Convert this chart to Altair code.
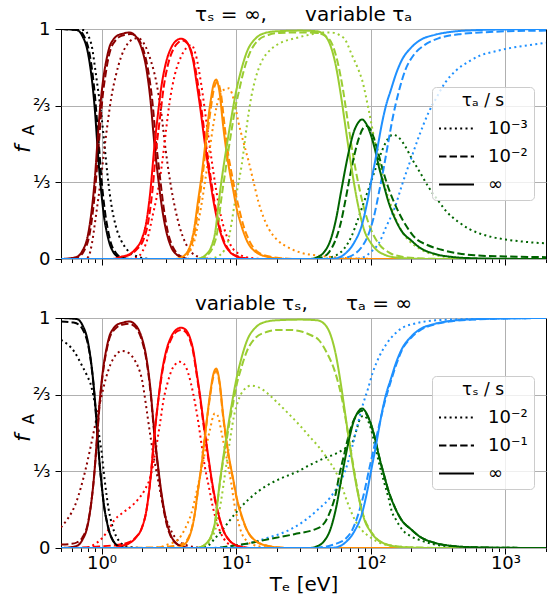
import altair as alt
import pandas as pd

SPECIES = ["A0", "A1", "A2", "A3", "A4", "A5", "A6"]
COLORS = ["#000000", "#8b0000", "#ff0000", "#ff8c00", "#9acd32", "#006400", "#1e90ff"]

X_TICKS = [0.5, 0.6, 0.7, 0.8, 0.9, 1, 2, 3, 4, 5, 6, 7, 8, 9, 10, 20, 30, 40, 50, 60, 70, 80, 90,
           100, 200, 300, 400, 500, 600, 700, 800, 900, 1000, 2000]
Y_TICKS = [0, 1 / 3, 2 / 3, 1]
TOP_STYLES = ["10⁻³", "10⁻²", "∞"]
BOTTOM_STYLES = ["10⁻²", "10⁻¹", "∞"]
DASHES = [[2, 3.3], [7.4, 3.2], [1, 0]]

# ---- tau = infinity (solid, same in both panels) ----
INF_0 = [(0.5,1.0),(0.66,0.995),(0.72,0.97),(0.79,0.9),(0.84,0.80),(0.87,0.72),(0.90,0.62),(0.93,0.50),(0.97,0.36),(1.0,0.28),(1.04,0.19),(1.1,0.11),(1.15,0.065),(1.21,0.035),(1.3,0.012),(1.4,0.004),(1.6,0.0),(2000,0.0)]
INF_1 = [(0.5,0.0),(0.6,0.004),(0.66,0.01),(0.72,0.035),(0.79,0.10),(0.84,0.20),(0.87,0.28),(0.90,0.38),(0.93,0.50),(0.97,0.64),(1.0,0.72),(1.04,0.80),(1.1,0.88),(1.15,0.925),(1.21,0.95),(1.3,0.97),(1.45,0.98),(1.6,0.985),(1.75,0.975),(1.9,0.945),(2.0,0.91),(2.15,0.83),(2.3,0.70),(2.47,0.50),(2.6,0.38),(2.8,0.23),(3.0,0.13),(3.3,0.05),(3.6,0.02),(4.0,0.006),(4.5,0.0),(2000,0.0)]
INF_2 = [(0.5,0.0),(1.2,0.0),(1.4,0.01),(1.6,0.02),(1.8,0.045),(2.0,0.09),(2.15,0.16),(2.3,0.29),(2.47,0.49),(2.6,0.61),(2.8,0.76),(3.0,0.85),(3.3,0.92),(3.6,0.95),(3.9,0.958),(4.2,0.95),(4.5,0.92),(4.8,0.86),(5.1,0.76),(5.4,0.66),(5.8,0.52),(6.2,0.40),(6.7,0.27),(7.3,0.16),(8.0,0.08),(9.0,0.03),(10,0.012),(11,0.005),(12.5,0.0),(2000,0.0)]
INF_3 = [(0.5,0.0),(3.5,0.0),(4.0,0.01),(4.5,0.05),(4.9,0.14),(5.2,0.25),(5.5,0.35),(5.9,0.50),(6.4,0.67),(6.8,0.76),(7.1,0.78),(7.5,0.73),(8.0,0.58),(8.5,0.46),(9.0,0.37),(9.5,0.30),(10,0.23),(11,0.14),(12,0.08),(14,0.03),(17,0.01),(20,0.003),(25,0.0),(2000,0.0)]
INF_4 = [(0.5,0.0),(5.0,0.0),(5.5,0.005),(6.0,0.02),(6.5,0.05),(7.0,0.12),(7.5,0.27),(8.0,0.39),(8.5,0.49),(9.0,0.58),(9.5,0.66),(10,0.73),(11,0.83),(12,0.90),(14,0.96),(17,0.985),(20,0.99),(30,0.993),(40,0.99),(45,0.975),(50,0.93),(55,0.84),(60,0.71),(65,0.57),(70,0.44),(75,0.33),(80,0.24),(90,0.12),(100,0.07),(110,0.04),(125,0.02),(150,0.007),(200,0.002),(300,0.0),(2000,0.0)]
INF_5 = [(0.5,0.0),(35,0.0),(40,0.008),(45,0.03),(50,0.08),(55,0.17),(60,0.29),(65,0.40),(70,0.49),(75,0.555),(80,0.59),(86,0.607),(92,0.59),(100,0.54),(108,0.47),(115,0.40),(125,0.32),(135,0.25),(150,0.18),(170,0.12),(200,0.08),(230,0.05),(300,0.022),(400,0.009),(600,0.003),(1000,0.001),(2000,0.0)]
INF_6 = [(0.5,0.0),(50,0.0),(57,0.005),(65,0.025),(75,0.07),(86,0.15),(95,0.26),(100,0.33),(108,0.43),(115,0.52),(121,0.59),(130,0.67),(140,0.73),(155,0.81),(170,0.865),(200,0.92),(230,0.95),(300,0.975),(400,0.988),(600,0.995),(1000,0.998),(2000,1.0)]

# ---- top panel, tau_a = 1e-2 (dashed) ----
TA2_0 = [(0.5,1.0),(0.67,0.995),(0.74,0.97),(0.81,0.9),(0.86,0.80),(0.89,0.72),(0.92,0.62),(0.955,0.50),(0.995,0.36),(1.025,0.28),(1.07,0.19),(1.13,0.11),(1.18,0.065),(1.25,0.035),(1.34,0.013),(1.45,0.005),(1.7,0.0),(2000,0.0)]
TA2_1 = [(0.5,0.0),(0.62,0.004),(0.68,0.01),(0.74,0.035),(0.81,0.10),(0.86,0.20),(0.89,0.28),(0.92,0.38),(0.955,0.50),(0.995,0.64),(1.025,0.72),(1.07,0.80),(1.13,0.88),(1.18,0.92),(1.25,0.945),(1.35,0.965),(1.5,0.975),(1.65,0.978),(1.8,0.968),(1.95,0.94),(2.07,0.9),(2.22,0.82),(2.38,0.69),(2.55,0.50),(2.7,0.37),(2.9,0.22),(3.1,0.12),(3.4,0.05),(3.7,0.02),(4.1,0.006),(4.6,0.0),(2000,0.0)]
TA2_2 = [(0.5,0.0),(1.25,0.0),(1.45,0.01),(1.65,0.02),(1.85,0.045),(2.07,0.09),(2.22,0.16),(2.38,0.29),(2.55,0.48),(2.7,0.60),(2.9,0.75),(3.1,0.84),(3.4,0.91),(3.7,0.94),(4.0,0.95),(4.3,0.94),(4.6,0.91),(4.9,0.85),(5.2,0.76),(5.5,0.66),(5.9,0.52),(6.3,0.40),(6.8,0.27),(7.4,0.16),(8.1,0.08),(9.1,0.03),(10.2,0.012),(11.5,0.004),(13,0.0),(2000,0.0)]
TA2_3 = [(0.5,0.0),(3.6,0.0),(4.1,0.01),(4.6,0.05),(5.0,0.14),(5.3,0.25),(5.6,0.35),(6.0,0.50),(6.5,0.66),(6.9,0.75),(7.25,0.77),(7.7,0.72),(8.2,0.58),(8.7,0.46),(9.2,0.38),(9.7,0.31),(10.3,0.24),(11.4,0.14),(12.5,0.08),(14.5,0.03),(18,0.01),(22,0.003),(27,0.0),(2000,0.0)]
TA2_4 = [(0.5,0.0),(5.2,0.0),(5.7,0.005),(6.2,0.02),(6.7,0.05),(7.25,0.12),(7.75,0.26),(8.3,0.38),(8.8,0.48),(9.3,0.57),(9.8,0.65),(10.4,0.72),(11.4,0.82),(12.5,0.89),(14.5,0.95),(17.5,0.975),(21,0.983),(30,0.985),(40,0.983),(46,0.97),(52,0.93),(57,0.85),(62,0.74),(67,0.61),(72,0.49),(77,0.39),(82,0.31),(90,0.21),(100,0.13),(115,0.065),(135,0.03),(170,0.01),(250,0.002),(400,0.0),(2000,0.0)]
TA2_5 = [(0.5,0.0),(38,0.0),(44,0.008),(49,0.03),(54,0.075),(60,0.16),(65,0.26),(70,0.36),(76,0.46),(82,0.53),(88,0.57),(93,0.578),(100,0.56),(110,0.49),(121,0.40),(135,0.31),(156,0.22),(185,0.14),(215,0.09),(260,0.062),(336,0.04),(450,0.024),(590,0.016),(1000,0.011),(2000,0.008)]
TA2_6 = [(0.5,0.0),(55,0.0),(65,0.005),(75,0.02),(85,0.05),(95,0.1),(105,0.18),(115,0.29),(125,0.40),(135,0.51),(145,0.61),(160,0.72),(180,0.82),(210,0.89),(250,0.93),(320,0.96),(450,0.977),(700,0.986),(1000,0.99),(2000,0.993)]

# ---- top panel, tau_a = 1e-3 (dotted) ----
TA3_0 = [(0.5,1.0),(0.75,0.995),(0.8,0.97),(0.85,0.92),(0.9,0.82),(0.95,0.72),(1.0,0.62),(1.05,0.50),(1.11,0.36),(1.18,0.24),(1.28,0.14),(1.4,0.08),(1.55,0.04),(1.7,0.02),(1.9,0.008),(2.1,0.002),(2.5,0.0),(2000,0.0)]
TA3_1 = [(0.5,0.0),(0.75,0.0),(0.8,0.01),(0.85,0.07),(0.9,0.17),(0.95,0.27),(1.0,0.37),(1.05,0.48),(1.11,0.59),(1.18,0.70),(1.28,0.80),(1.4,0.88),(1.56,0.935),(1.7,0.955),(1.86,0.96),(2.05,0.94),(2.33,0.86),(2.55,0.77),(2.77,0.64),(3.0,0.47),(3.29,0.31),(3.55,0.21),(3.8,0.14),(4.2,0.07),(4.64,0.03),(5.2,0.01),(6,0.002),(7,0.0),(2000,0.0)]
TA3_2 = [(0.5,0.0),(1.6,0.0),(1.8,0.005),(2.0,0.03),(2.2,0.09),(2.4,0.19),(2.55,0.26),(2.7,0.34),(2.85,0.44),(3.0,0.55),(3.2,0.68),(3.5,0.80),(3.9,0.88),(4.3,0.92),(4.65,0.93),(5.0,0.89),(5.5,0.76),(6.0,0.60),(6.5,0.45),(7.1,0.30),(7.75,0.18),(8.5,0.10),(9.2,0.055),(10.3,0.025),(11.5,0.01),(13,0.004),(16,0.0),(2000,0.0)]
TA3_3 = [(0.5,0.0),(3.8,0.0),(4.2,0.01),(4.6,0.04),(4.9,0.08),(5.2,0.15),(5.5,0.23),(5.85,0.33),(6.3,0.46),(6.75,0.58),(7.2,0.67),(7.8,0.725),(8.4,0.74),(8.8,0.742),(9.3,0.72),(9.8,0.67),(10.35,0.60),(11.3,0.51),(12.3,0.43),(13.4,0.34),(14.6,0.25),(16,0.18),(17.5,0.13),(20,0.085),(24.4,0.05),(30,0.028),(40,0.015),(55,0.007),(80,0.002),(120,0.0),(2000,0.0)]
TA3_4 = [(0.5,0.0),(6,0.0),(6.9,0.005),(7.5,0.015),(8.2,0.04),(8.7,0.075),(9.2,0.15),(9.8,0.25),(10.4,0.33),(11.0,0.41),(12,0.58),(13,0.71),(14,0.79),(15.5,0.86),(18,0.91),(20.6,0.935),(27.5,0.96),(35,0.975),(43,0.985),(50,0.985),(58,0.975),(65,0.95),(72,0.89),(80,0.83),(86,0.78),(97,0.64),(108,0.50),(118,0.40),(128,0.31),(140,0.24),(152,0.18),(170,0.12),(192,0.08),(230,0.045),(271,0.025),(350,0.01),(500,0.003),(800,0.0),(2000,0.0)]
TA3_5 = [(0.5,0.0),(45,0.0),(52,0.01),(60,0.03),(67,0.065),(72,0.10),(80,0.17),(88,0.24),(97,0.31),(108,0.39),(121,0.47),(133,0.52),(145,0.54),(160,0.53),(180,0.49),(200,0.44),(230,0.38),(270,0.31),(320,0.25),(360,0.21),(450,0.16),(540,0.13),(650,0.11),(800,0.095),(1000,0.085),(1500,0.073),(2000,0.068)]
TA3_6 = [(0.5,0.0),(70,0.0),(85,0.005),(100,0.03),(115,0.07),(130,0.14),(150,0.22),(170,0.32),(200,0.44),(230,0.54),(270,0.64),(300,0.69),(360,0.77),(430,0.82),(540,0.86),(650,0.885),(800,0.90),(1100,0.918),(1500,0.93),(2000,0.94)]

# ---- bottom panel, tau_s = 1e-1 (dashed) ----
TS1_0 = [(0.5,0.985),(0.62,0.98),(0.68,0.97),(0.74,0.94),(0.79,0.89),(0.84,0.795),(0.87,0.715),(0.90,0.615),(0.93,0.50),(0.97,0.36),(1.0,0.28),(1.04,0.19),(1.1,0.11),(1.15,0.065),(1.21,0.035),(1.3,0.012),(1.4,0.004),(1.6,0.0),(2000,0.0)]
TS1_1 = [(0.5,0.015),(0.6,0.018),(0.66,0.025),(0.72,0.045),(0.79,0.105),(0.84,0.20),(0.87,0.28),(0.90,0.38),(0.93,0.49),(0.97,0.63),(1.0,0.71),(1.04,0.79),(1.1,0.87),(1.15,0.915),(1.21,0.94),(1.3,0.96),(1.45,0.972),(1.6,0.975),(1.75,0.965),(1.9,0.935),(2.0,0.9),(2.15,0.82),(2.3,0.69),(2.47,0.49),(2.6,0.37),(2.8,0.22),(3.0,0.12),(3.3,0.045),(3.6,0.018),(4.0,0.006),(4.5,0.0),(2000,0.0)]
TS1_2 = [(0.5,0.0),(0.8,0.003),(1.0,0.007),(1.2,0.011),(1.4,0.016),(1.6,0.025),(1.8,0.047),(2.0,0.09),(2.15,0.16),(2.3,0.29),(2.47,0.49),(2.6,0.61),(2.8,0.75),(3.0,0.84),(3.3,0.91),(3.6,0.94),(3.9,0.948),(4.2,0.94),(4.5,0.91),(4.8,0.85),(5.1,0.75),(5.4,0.65),(5.8,0.51),(6.2,0.39),(6.7,0.26),(7.3,0.155),(8.0,0.078),(9.0,0.03),(10,0.012),(11,0.005),(12.5,0.0),(2000,0.0)]
TS1_3 = [(0.5,0.0),(2.5,0.002),(3.0,0.005),(3.5,0.009),(4.0,0.018),(4.5,0.055),(4.9,0.14),(5.2,0.25),(5.5,0.35),(5.9,0.50),(6.4,0.66),(6.8,0.75),(7.1,0.77),(7.5,0.72),(8.0,0.57),(8.5,0.455),(9.0,0.365),(9.5,0.295),(10,0.225),(11,0.135),(12,0.078),(14,0.03),(17,0.01),(20,0.003),(25,0.0),(2000,0.0)]
TS1_4 = [(0.5,0.0),(5.0,0.0),(5.5,0.005),(6.0,0.02),(6.5,0.05),(7.0,0.12),(7.5,0.265),(8.0,0.38),(8.5,0.47),(9.0,0.56),(9.5,0.63),(10,0.70),(11,0.79),(12,0.855),(14,0.915),(17,0.94),(20,0.948),(25,0.948),(31,0.94),(36,0.925),(41,0.905),(47,0.85),(54.6,0.76),(61,0.65),(68.5,0.48),(76,0.32),(83,0.2),(90,0.125),(97,0.085),(110,0.042),(128,0.018),(160,0.006),(250,0.001),(400,0.0),(2000,0.0)]
TS1_5 = [(0.5,0.0),(7,0.0),(8.7,0.007),(12.3,0.02),(17.3,0.038),(27,0.06),(38,0.08),(43,0.095),(46.5,0.12),(50,0.16),(54.6,0.23),(58,0.31),(63,0.40),(68.5,0.49),(74,0.55),(80,0.585),(86,0.597),(92,0.585),(100,0.54),(108,0.47),(115,0.40),(125,0.32),(135,0.25),(150,0.18),(170,0.12),(200,0.08),(230,0.05),(300,0.022),(400,0.009),(600,0.003),(1000,0.001),(2000,0.0)]
TS1_6 = [(0.5,0.0),(35,0.0),(42,0.003),(48,0.008),(56,0.02),(65,0.04),(73,0.08),(81,0.15),(90,0.25),(97,0.34),(105,0.43),(115,0.53),(125,0.62),(140,0.72),(155,0.80),(170,0.86),(200,0.915),(230,0.945),(300,0.973),(400,0.986),(600,0.994),(1000,0.998),(2000,1.0)]

# ---- bottom panel, tau_s = 1e-2 (dotted) ----
TS2_0 = [(0.5,0.905),(0.625,0.855),(0.72,0.79),(0.78,0.75),(0.842,0.70),(0.89,0.63),(0.934,0.55),(0.97,0.47),(1.0,0.42),(1.03,0.35),(1.053,0.30),(1.09,0.23),(1.128,0.17),(1.18,0.115),(1.244,0.07),(1.316,0.04),(1.4,0.02),(1.55,0.007),(1.7,0.003),(2.0,0.0),(2000,0.0)]
TS2_1 = [(0.5,0.09),(0.55,0.12),(0.6,0.155),(0.65,0.2),(0.7,0.26),(0.76,0.34),(0.83,0.44),(0.9,0.54),(0.99,0.65),(1.08,0.74),(1.17,0.80),(1.3,0.845),(1.43,0.857),(1.6,0.847),(1.75,0.82),(1.86,0.79),(2.0,0.73),(2.08,0.67),(2.2,0.57),(2.33,0.47),(2.47,0.38),(2.62,0.30),(2.78,0.22),(2.94,0.15),(3.2,0.09),(3.48,0.05),(3.8,0.027),(4.14,0.015),(4.8,0.005),(6,0.0),(2000,0.0)]
TS2_2 = [(0.5,0.0),(0.75,0.0),(0.88,0.015),(1.0,0.04),(1.1,0.07),(1.24,0.12),(1.45,0.155),(1.65,0.18),(1.86,0.21),(2.08,0.25),(2.33,0.32),(2.5,0.41),(2.7,0.53),(2.9,0.65),(3.1,0.72),(3.3,0.77),(3.55,0.80),(3.8,0.81),(4.1,0.80),(4.4,0.76),(4.8,0.67),(5.2,0.557),(5.5,0.46),(5.85,0.354),(6.3,0.26),(6.7,0.18),(7.2,0.11),(7.7,0.064),(8.5,0.025),(9.5,0.008),(11,0.0),(2000,0.0)]
TS2_3 = [(0.5,0.0),(2.3,0.0),(2.8,0.006),(3.1,0.015),(3.69,0.036),(4.14,0.08),(4.64,0.15),(5.2,0.27),(5.84,0.41),(6.36,0.51),(6.93,0.585),(7.3,0.575),(7.8,0.50),(8.3,0.42),(8.7,0.36),(9.2,0.28),(9.7,0.19),(10.3,0.12),(10.9,0.07),(12,0.03),(13.7,0.012),(16,0.004),(20,0.0),(2000,0.0)]
TS2_4 = [(0.5,0.0),(5,0.0),(5.8,0.005),(6.5,0.04),(7.0,0.08),(7.7,0.20),(8.3,0.33),(9.0,0.47),(9.6,0.57),(10.35,0.64),(11.5,0.69),(12.9,0.706),(14.5,0.70),(17.3,0.67),(20,0.635),(24.4,0.585),(30,0.53),(35,0.485),(41,0.44),(48,0.385),(55,0.33),(60,0.28),(65,0.22),(70,0.17),(76.5,0.12),(85,0.08),(97,0.05),(110,0.03),(128,0.015),(170,0.005),(250,0.0),(2000,0.0)]
TS2_5 = [(0.5,0.0),(5.5,0.0),(6.2,0.01),(6.9,0.04),(7.7,0.07),(8.7,0.11),(10.35,0.165),(12.3,0.21),(14.5,0.245),(17.3,0.275),(22,0.305),(28,0.33),(35,0.36),(45,0.39),(55,0.41),(65,0.435),(73,0.46),(78,0.51),(83,0.56),(88,0.575),(93,0.565),(100,0.52),(108,0.44),(115,0.37),(125,0.29),(135,0.22),(143,0.16),(155,0.12),(171,0.08),(200,0.05),(228,0.036),(300,0.015),(400,0.006),(600,0.002),(2000,0.0)]
TS2_6 = [(0.5,0.0),(6,0.0),(9,0.005),(12.3,0.02),(17.3,0.045),(22,0.065),(30.7,0.11),(41,0.17),(50,0.22),(57,0.27),(64,0.33),(72,0.43),(80,0.54),(88,0.63),(95,0.69),(103,0.76),(115,0.83),(130,0.885),(150,0.93),(175,0.96),(210,0.975),(300,0.99),(500,0.995),(2000,1.0)]

INF = [INF_0, INF_1, INF_2, INF_3, INF_4, INF_5, INF_6]
TA2 = [TA2_0, TA2_1, TA2_2, TA2_3, TA2_4, TA2_5, TA2_6]
TA3 = [TA3_0, TA3_1, TA3_2, TA3_3, TA3_4, TA3_5, TA3_6]
TS1 = [TS1_0, TS1_1, TS1_2, TS1_3, TS1_4, TS1_5, TS1_6]
TS2 = [TS2_0, TS2_1, TS2_2, TS2_3, TS2_4, TS2_5, TS2_6]


def rows(panel, style, curves):
    out = []
    for sp, pts in zip(SPECIES, curves):
        for t, f in pts:
            out.append({"panel": panel, "style": style, "species": sp, "T": t, "f": f})
    return out


records = (rows("top", TOP_STYLES[0], TA3) + rows("top", TOP_STYLES[1], TA2) + rows("top", TOP_STYLES[2], INF)
           + rows("bottom", BOTTOM_STYLES[0], TS2) + rows("bottom", BOTTOM_STYLES[1], TS1)
           + rows("bottom", BOTTOM_STYLES[2], INF))
DF = pd.DataFrame(records)
ONE = pd.DataFrame({"k": [0]})

MAJOR = "datum.value == 1 || datum.value == 10 || datum.value == 100 || datum.value == 1000"
XLABELS = ("datum.value == 1 ? '10⁰' : datum.value == 10 ? '10¹' : "
           "datum.value == 100 ? '10²' : datum.value == 1000 ? '10³' : ''")
YLABELS = "datum.value < 0.1 ? '0' : datum.value < 0.5 ? '⅓' : datum.value < 0.9 ? '⅔' : '1'"
NB = "\u00a0" * 6


def panel(name, styles, legend_title, title_text, bottom):
    data = DF[DF.panel == name]
    xa = dict(values=X_TICKS, grid=True, gridColor="#b0b0b0", gridWidth=1,
              gridOpacity={"condition": {"test": MAJOR, "value": 1}, "value": 0},
              tickSize={"condition": {"test": MAJOR, "value": 6}, "value": 3.5},
              tickColor="black", tickWidth=1, domain=False, labelOverlap=False,
              labelFlush=False, labelBound=False)
    if bottom:
        xa.update(labels=True, labelExpr=XLABELS, labelFontSize=18, labelColor="black",
                  labelPadding=0, title="Tₑ [eV]", titleFontSize=20, titleFontWeight="normal",
                  titleColor="black", titlePadding=2)
    else:
        xa.update(labels=False, title=None)
    lines = alt.Chart(data).mark_line(strokeWidth=2, interpolate="monotone", clip=True).encode(
        x=alt.X("T:Q", scale=alt.Scale(type="log", domain=[0.5, 2000], nice=False), axis=alt.Axis(**xa)),
        y=alt.Y("f:Q", scale=alt.Scale(domain=[0, 1], nice=False),
                axis=alt.Axis(values=Y_TICKS, labelExpr=YLABELS, grid=True, gridColor="#b0b0b0",
                              gridWidth=1, tickSize=6, tickColor="black", domain=False,
                              labelFontSize=18, labelColor="black", labelPadding=5, title=None)),
        color=alt.Color("species:N", scale=alt.Scale(domain=SPECIES, range=COLORS), legend=None),
        strokeDash=alt.StrokeDash(
            "style:N", scale=alt.Scale(domain=styles, range=DASHES),
            legend=alt.Legend(title=legend_title, orient="none", legendX=371, legendY=58,
                              direction="vertical", fillColor="rgba(255,255,255,0.8)",
                              strokeColor="#cccccc", cornerRadius=4, padding=6,
                              titleFontSize=17, titleFontWeight="normal", titleColor="black",
                              titleAnchor="middle", titlePadding=0, labelFontSize=18,
                              labelColor="black", labelOffset=13, symbolType="stroke",
                              symbolSize=1225, symbolStrokeWidth=2, symbolStrokeColor="black",
                              rowPadding=-8)),
        order=alt.Order("T:Q"),
    )
    f_txt = alt.Chart(ONE).mark_text(text="f", fontStyle="italic", fontSize=22, angle=270,
                                     align="center", baseline="middle", color="black").encode(
        x=alt.value(-38), y=alt.value(120))
    a_txt = alt.Chart(ONE).mark_text(text="A", fontSize=15, angle=270, align="center",
                                     baseline="middle", color="black").encode(
        x=alt.value(-32), y=alt.value(101))
    return alt.layer(lines, f_txt, a_txt).properties(
        width=485, height=230,
        title=alt.TitleParams(text=title_text, fontSize=20, fontWeight="normal", color="black",
                              anchor="middle", frame="group", offset=-5))


top = panel("top", TOP_STYLES, "τₐ / s", "τₛ = ∞," + NB + "variable τₐ", False)
bot = panel("bottom", BOTTOM_STYLES, "τₛ / s", "variable τₛ," + NB + "τₐ = ∞", True)

chart = alt.vconcat(top, bot, spacing=24).resolve_scale(strokeDash="independent").resolve_legend(
    strokeDash="independent").properties(
    padding={"left": 11, "top": 4, "right": 5, "bottom": 3}).configure(
    font="DejaVu Sans").configure_view(stroke="black", strokeWidth=1)

chart.save("out.html", embed_options={"renderer": "svg", "actions": False})
